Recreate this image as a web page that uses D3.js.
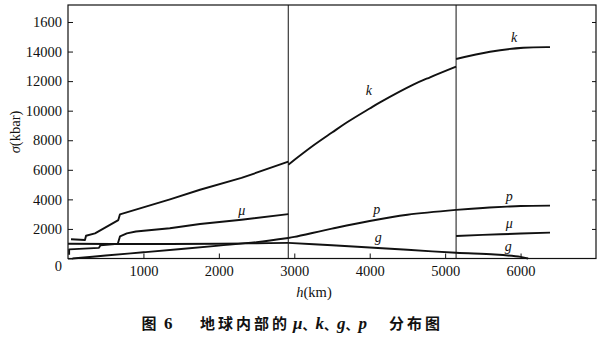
<!DOCTYPE html>
<html>
<head>
<meta charset="utf-8">
<script src="https://cdn.jsdelivr.net/npm/d3@7/dist/d3.min.js"></script>
<style>
  html, body { margin: 0; padding: 0; background: #fff; }
  svg { display: block; }
</style>
</head>
<body>
<svg id="chart" width="600" height="354"></svg>
<script>
// ---- data (h in km, sigma in kbar) ----
const xTicks = [1000, 2000, 3000, 4000, 5000, 6000];
const yTicks = [0, 2000, 4000, 6000, 8000, 10000, 12000, 14000, 16000];
const yTickLabels = ["0", "2000", "4000", "6000", "8000", "10000", "12000", "14000", "1600"];
const boundaries = [2920, 5145];

const kMantle = [[40,1300],[225,1250],[239,1540],[358,1700],[667,2600],[689,2990],[1352,4000],[1750,4650],[2300,5450],[2921,6550]];
const kOuter  = [[2921,6350],[3252,7640],[3500,8520],[3695,9200],[4000,10150],[4136,10560],[4578,11760],[4800,12260],[5145,12980]];
const kInner  = [[5145,13500],[5595,13990],[6036,14260],[6390,14300]];

const muMantle = [[15,250],[15,620],[410,720],[430,900],[660,1000],[675,1250],[690,1500],[780,1700],[900,1830],[1350,2050],[1750,2330],[2300,2620],[2921,3000]];
const muInner  = [[5145,1525],[5730,1640],[6390,1750]];

const pMantle = [[60,0],[500,200],[1000,420],[1500,640],[2000,870],[2500,1110],[2921,1390]];
const pOuter  = [[2921,1390],[3000,1460],[3500,2020],[4000,2540],[4500,2960],[5145,3290]];
const pInner  = [[5145,3290],[5500,3420],[5820,3510],[6000,3550],[6390,3580]];

const gMantle = [[0,1000],[1000,980],[2000,1000],[2500,1030],[2921,1060]];
const gCore   = [[2921,1060],[3500,900],[4000,740],[4500,590],[5145,390],[5660,270],[6000,110],[6100,0]];

const curveLabels = [
  {t:"k", h:3990, v:11330}, {t:"k", h:5913, v:14920},
  {t:"μ", h:2303, v:3214},  {t:"p", h:4093, v:3281},
  {t:"g", h:4114, v:1434},  {t:"p", h:5850, v:4181},
  {t:"μ", h:5850, v:2381},  {t:"g", h:5837, v:798}
];

// ---- drawing ----
const serif = "'Liberation Serif', 'Times New Roman', 'DejaVu Serif', serif";
const cjk = "'Noto Sans CJK SC', sans-serif";
const svg = d3.select("#chart");
const ink = "#111";
const x = d3.scaleLinear([0, 7000], [68, 596]);
const y = d3.scaleLinear([0, 17150], [258.5, 5]);

// frame
svg.append("rect").attr("x", x(0)).attr("y", y(17150))
  .attr("width", x(7000) - x(0)).attr("height", y(0) - y(17150))
  .attr("fill", "none").attr("stroke", ink).attr("stroke-width", 1.2);

// boundary lines
svg.selectAll("line.bd").data(boundaries).join("line")
  .attr("x1", d => x(d)).attr("x2", d => x(d))
  .attr("y1", y(0)).attr("y2", y(17150))
  .attr("stroke", ink).attr("stroke-width", 1);

// axes
const gx = svg.append("g").attr("transform", `translate(0,${y(0)})`)
  .call(d3.axisBottom(x).tickValues(xTicks).tickSize(-5).tickSizeOuter(0).tickPadding(7).tickFormat(d3.format("d")));
const gy = svg.append("g").attr("transform", `translate(${x(0)},0)`)
  .call(d3.axisLeft(y).tickValues(yTicks).tickSize(-5).tickSizeOuter(0).tickPadding(6)
    .tickFormat((d, i) => yTickLabels[i]));
const gr = svg.append("g").attr("transform", `translate(${x(7000)},0)`)
  .call(d3.axisRight(y).tickValues(yTicks.slice(1)).tickSize(-4).tickSizeOuter(0).tickFormat(""));
[gx, gy, gr].forEach(g => {
  g.attr("font-family", serif).attr("font-size", 14.5);
  g.select(".domain").remove();
  g.selectAll(".tick line").attr("stroke", ink).attr("stroke-width", 1);
  g.selectAll(".tick text").attr("fill", ink).attr("font-family", serif).attr("font-size", 14.5);
});
gy.selectAll(".tick text").filter(d => d === 0).attr("dy", "0.85em");

// curves
const lin = d3.line().x(d => x(d[0])).y(d => y(d[1]));
const smooth = d3.line().x(d => x(d[0])).y(d => y(d[1])).curve(d3.curveCatmullRom);
const linSeries = [kMantle, muMantle];
const smoothSeries = [kOuter, kInner, muInner, pMantle, pOuter, pInner, gMantle, gCore];
svg.selectAll("path.lin").data(linSeries).join("path")
  .attr("d", lin).attr("fill", "none").attr("stroke", ink).attr("stroke-width", 1.9)
  .attr("stroke-linejoin", "round");
svg.selectAll("path.sm").data(smoothSeries).join("path")
  .attr("d", smooth).attr("fill", "none").attr("stroke", ink).attr("stroke-width", 1.9)
  .attr("stroke-linejoin", "round");

// curve labels
svg.selectAll("text.cl").data(curveLabels).join("text")
  .attr("x", d => x(d.h)).attr("y", d => y(d.v)).attr("dy", "0.3em")
  .attr("text-anchor", "middle")
  .attr("font-family", serif)
  .attr("font-style", "italic").attr("font-size", 14).attr("fill", ink)
  .text(d => d.t);

// axis titles
const yt = svg.append("text").attr("transform", "translate(20,132) rotate(-90)")
  .attr("text-anchor", "middle").attr("font-family", serif)
  .attr("font-size", 14.5).attr("fill", ink);
yt.append("tspan").attr("font-style", "italic").text("σ");
yt.append("tspan").text("(kbar)");

const xt = svg.append("text").attr("x", 314).attr("y", 297)
  .attr("text-anchor", "middle").attr("font-family", serif)
  .attr("font-size", 14.5).attr("fill", ink);
xt.append("tspan").attr("font-style", "italic").text("h");
xt.append("tspan").text("(km)");

// caption
const cap = svg.append("g").attr("fill", ink).attr("font-weight", "bold");
cap.append("text").attr("x", 141.5).attr("y", 329).attr("font-family", cjk)
  .attr("font-size", 15).text("图");
cap.append("text").attr("x", 164).attr("y", 329).attr("font-family", serif)
  .attr("font-size", 17).text("6");
cap.append("text").attr("x", 200).attr("y", 329).attr("font-family", cjk)
  .attr("font-size", 15).attr("letter-spacing", 3).text("地球内部的");
const mid = cap.append("text").attr("x", 293).attr("y", 329).attr("font-size", 15);
[["μ", 0], ["、", 1], ["k", 0], ["、", 1], ["g", 0], ["、", 1], ["p", 0]].forEach(([t, c]) => {
  mid.append("tspan").attr("font-family", c ? cjk : serif)
    .attr("font-style", c ? "normal" : "italic")
    .attr("font-size", c ? 13 : 17).text(t);
});
cap.append("text").attr("x", 389).attr("y", 329).attr("font-family", cjk)
  .attr("font-size", 15).attr("letter-spacing", 3).text("分布图");
</script>
</body>
</html>
